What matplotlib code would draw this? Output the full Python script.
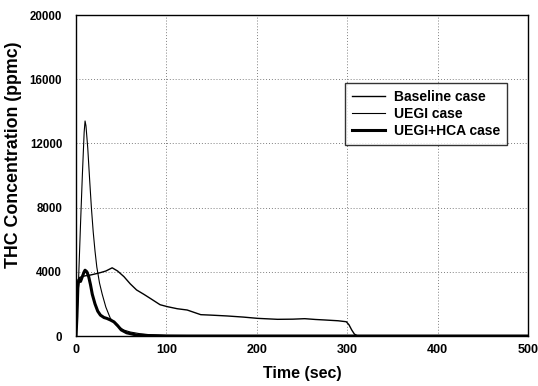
import numpy as np
import matplotlib
matplotlib.use("Agg")
import matplotlib.pyplot as plt

plt.rcParams["font.family"] = ["Liberation Sans", "DejaVu Sans"]
plt.rcParams["font.weight"] = "bold"

# Baseline case
base_t = [0, 1, 2, 4, 10, 16, 22, 27, 33, 40, 46, 53, 60, 67, 75, 82, 93, 101,
          112, 123, 138, 150, 167, 185, 201, 223, 240, 253, 265, 275, 290, 299,
          302, 305, 308, 311, 330, 400, 500]
base_v = [0, 1500, 3300, 3650, 3750, 3800, 3880, 3950, 4050, 4250, 4050, 3700,
          3250, 2870, 2600, 2350, 1950, 1830, 1700, 1620, 1330, 1300, 1250, 1180,
          1100, 1040, 1050, 1080, 1030, 1000, 950, 890, 700, 380, 120, 20, 0, 0, 0]

# UEGI case
uegi_t = [0, 1, 3, 5, 7, 9, 10, 11, 13, 15, 17, 19, 21, 23, 26, 29, 33, 38,
          45, 53, 60, 70, 80, 100, 150, 200, 300, 400, 500]
uegi_v = [0, 800, 3800, 7000, 10000, 12700, 13400, 13100, 11700, 9800, 8000,
          6500, 5300, 4300, 3300, 2600, 1800, 1100, 650, 370, 250, 150, 90, 40,
          15, 5, 0, 0, 0]

# UEGI+HCA case
hca_t = [0, 1, 2, 3, 5, 7, 9, 10, 12, 14, 16, 18, 21, 24, 27, 31, 34, 38, 42,
         46, 50, 56, 67, 80, 100, 200, 300, 400, 500]
hca_v = [0, 1200, 3000, 3500, 3400, 3700, 4000, 4100, 4000, 3700, 3200, 2600,
         2000, 1550, 1300, 1150, 1100, 1000, 880, 650, 380, 200, 60, 20, 0, 0,
         0, 0, 0]

x_ticks = [0, 100, 200, 300, 400, 500]
y_ticks = [0, 4000, 8000, 12000, 16000, 20000]

fig = plt.figure(figsize=(5.38, 3.86), dpi=100)
ax = fig.add_axes([0.1413, 0.1295, 0.84, 0.8315])

ax.plot(base_t, base_v, color="black", lw=1.0, label="Baseline case")
ax.plot(uegi_t, uegi_v, color="black", lw=0.8, label="UEGI case")
ax.plot(hca_t, hca_v, color="black", lw=2.2, label="UEGI+HCA case")

ax.set_xlim(0, 500)
ax.set_ylim(0, 20000)
ax.set_xticks(x_ticks)
ax.set_yticks(y_ticks)
ax.tick_params(axis="x", length=0, labelsize=9, pad=6)
ax.tick_params(axis="y", length=0, labelsize=8.3, pad=10)
for lab in ax.get_xticklabels() + ax.get_yticklabels():
    lab.set_fontweight("bold")
ax.grid(True, color="#808080", linestyle=(0, (1, 2)), linewidth=0.7)
for sp in ax.spines.values():
    sp.set_linewidth(1.0)

ax.set_xlabel("Time (sec)", fontsize=11.5, fontweight="bold", labelpad=7)
ax.set_ylabel("THC Concentration (ppmc)", fontsize=12.8, fontweight="bold")
ax.yaxis.set_label_coords(-0.119, 0.564)

leg = ax.legend(loc="upper left", bbox_to_anchor=(0.595, 0.788), fontsize=10,
                frameon=True, fancybox=False, handlelength=2.4,
                borderpad=0.5, labelspacing=0.22, handletextpad=0.6,
                borderaxespad=0)
leg.get_frame().set_edgecolor("black")
leg.get_frame().set_linewidth(1.0)
for t in leg.get_texts():
    t.set_fontweight("bold")

fig.savefig("out.png", dpi=100)
